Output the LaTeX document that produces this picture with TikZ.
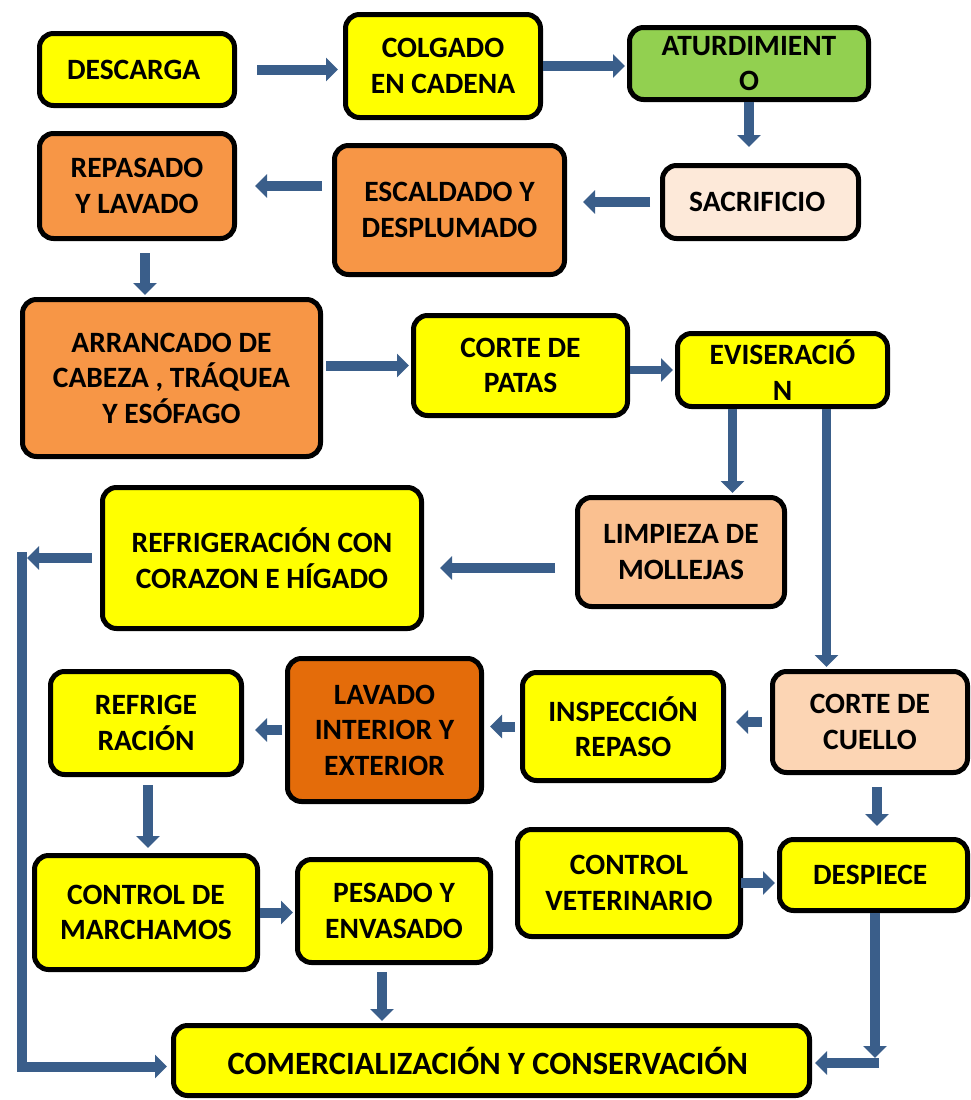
\documentclass[tikz,border=0pt]{standalone}
\usepackage{fontspec}
\setmainfont{Carlito}
\usetikzlibrary{arrows.meta}

\definecolor{amarillo}{HTML}{FFFF00}
\definecolor{verde}{HTML}{92D050}
\definecolor{rosado}{HTML}{FDE9D9}
\definecolor{naranja}{HTML}{F79646}
\definecolor{salmon}{HTML}{FAC090}
\definecolor{durazno}{HTML}{FCD5B4}
\definecolor{naranjaosc}{HTML}{E46C0A}
\definecolor{azul}{RGB}{58,94,138}

\begin{document}
\begin{tikzpicture}[x = 1pt, y = -1pt,
  paso/.style = {draw, line width = 5pt, rounded corners = 14pt, align = center, inner sep = 2pt, font = \bfseries\fontsize{29.5}{35.5}\selectfont},
  flecha/.style = {draw = azul, line width = 10pt, -{Triangle[width = 23pt, length = 12pt]}},
  delgada/.style = {flecha, line width = 9pt}]

  \useasboundingbox (0, 0) rectangle (970, 1100);

  \node[paso, fill = amarillo, minimum width = 195, minimum height = 72] (descarga) at (137, 69.5) { DESCARGA };
  \node[paso, fill = amarillo, minimum width = 195, minimum height = 103] (colgado) at (443, 66) { COLGADO\\EN CADENA };
  \node[paso, fill = verde, minimum width = 239, minimum height = 72] (aturdimiento) at (749, 63.5) { ATURDIMIENT\\O };

  \node[paso, fill = rosado, minimum width = 196, minimum height = 73] (sacrificio) at (760.5, 202) { SACRIFICIO };
  \node[paso, fill = naranja, minimum width = 230, minimum height = 129] (escaldado) at (449.5, 210) { ESCALDADO Y\\DESPLUMADO };
  \node[paso, fill = naranja, minimum width = 195, minimum height = 105] (repasado) at (137, 186) { REPASADO\\Y LAVADO };

  \node[paso, fill = naranja, minimum width = 298, minimum height = 157] (arrancado) at (171.5, 378) { ARRANCADO DE\\CABEZA , TRÁQUEA\\Y ESÓFAGO };
  \node[paso, fill = amarillo, minimum width = 214, minimum height = 100] (patas) at (520.5, 365.5) { CORTE DE\\PATAS };
  \node[paso, fill = amarillo, minimum width = 210, minimum height = 73] (evisceracion) at (782.5, 370) { EVISERACIÓ\\N };

  \node[paso, fill = salmon, minimum width = 207, minimum height = 109] (mollejas) at (681, 552) { LIMPIEZA DE\\MOLLEJAS };
  \node[paso, fill = amarillo, minimum width = 319, minimum height = 141] (refcorazon) at (262, 558) { REFRIGERACIÓN CON\\CORAZON E HÍGADO };

  \node[paso, fill = durazno, minimum width = 195, minimum height = 101] (cuello) at (870, 722) { CORTE DE\\CUELLO };
  \node[paso, fill = amarillo, minimum width = 201, minimum height = 108] (inspeccion) at (623, 726.5) { INSPECCIÓN\\REPASO };
  \node[paso, fill = naranjaosc, minimum width = 194, minimum height = 143] (lavado) at (384.5, 730) { LAVADO\\INTERIOR Y\\EXTERIOR };
  \node[paso, fill = amarillo, minimum width = 191, minimum height = 103] (refrigeracion) at (146, 723) { REFRIGE\\RACIÓN };

  \node[paso, fill = amarillo, minimum width = 223, minimum height = 114] (marchamos) at (146, 912.5) { CONTROL DE\\MARCHAMOS };
  \node[paso, fill = amarillo, minimum width = 193, minimum height = 103] (pesado) at (394, 911) { PESADO Y\\ENVASADO };
  \node[paso, fill = amarillo, minimum width = 223, minimum height = 107] (veterinario) at (629, 883) { CONTROL\\VETERINARIO };
  \node[paso, fill = amarillo, minimum width = 188, minimum height = 71] (despiece) at (873.5, 875) { DESPIECE };

  \node[paso, fill = amarillo, minimum width = 636, minimum height = 70, font = \bfseries\fontsize{32.5}{38}\selectfont] (comercio) at (491.5, 1060.5) { COMERCIALIZACIÓN Y CONSERVACIÓN };

  \coordinate (rielizq) at (22, 552);
  \coordinate (rielder) at (875, 1063);

  % linea principal
  \draw[flecha, shorten < = 20pt, shorten > = 5pt] (descarga.east) -- (descarga.east -| colgado.west);
  \draw[flecha, shorten > = 2pt] (colgado.east) -- (colgado.east -| aturdimiento.west);
  \draw[flecha, shorten > = 16pt] (aturdimiento.south) -- (aturdimiento.south |- sacrificio.north);
  \draw[flecha, shorten < = 10pt, shorten > = 16pt] (sacrificio.west) -- (sacrificio.west -| escaldado.east);
  \draw[flecha, shorten < = 10pt, shorten > = 18pt] (repasado.east -| escaldado.west) -- (repasado.east);
  \draw[flecha, shorten < = 12pt, shorten > = 2pt] ([xshift = 8pt]repasado.south) -- ([xshift = 8pt]repasado.south |- arrancado.north);
  \draw[flecha, shorten < = 3pt, shorten > = 2pt] (arrancado.east |- patas.west) -- (patas.west);
  \draw[flecha, line width = 8pt, shorten > = 2pt] (patas.east |- evisceracion.west) -- (evisceracion.west);

  \draw[delgada, shorten > = 2pt] ([xshift = -50pt]evisceracion.south) -- ([xshift = -50pt]evisceracion.south |- mollejas.north);
  \draw[delgada, shorten > = 2pt] ([xshift = 44pt]evisceracion.south) -- ([xshift = 44pt]evisceracion.south |- cuello.north);
  \draw[flecha, shorten < = 20pt, shorten > = 16pt] ([yshift = -16pt]mollejas.west) -- ([yshift = -16pt]mollejas.west -| refcorazon.east);

  % salida lateral
  \draw[flecha, shorten < = 8pt, shorten > = 5pt] (refcorazon.west) -- (refcorazon.west -| rielizq);
  \draw[flecha, shorten > = 4pt] (rielizq) |- ([yshift = -6pt]comercio.west);

  \draw[flecha, shorten < = 8pt, shorten > = 10pt] (cuello.west) -- (cuello.west -| inspeccion.east);
  \draw[flecha, shorten < = 5pt, shorten > = 6pt] (inspeccion.west) -- (inspeccion.west -| lavado.east);
  \draw[flecha, shorten < = 3pt, shorten > = 11pt] (lavado.west) -- (lavado.west -| refrigeracion.east);
  \draw[flecha, shorten < = 8pt, shorten > = 5pt] ([xshift = 2pt]refrigeracion.south) -- ([xshift = 2pt]refrigeracion.south |- marchamos.north);
  \draw[flecha, shorten > = 2pt] (marchamos.east) -- (marchamos.east -| pesado.west);
  \draw[flecha, shorten < = -2pt, shorten > = 2pt] (veterinario.east) -- (veterinario.east -| despiece.west);
  \draw[flecha, shorten < = 12pt, shorten > = 11pt] ([xshift = 7pt]cuello.south) -- ([xshift = 7pt]cuello.south |- despiece.north);
  \draw[flecha, shorten < = 7pt, shorten > = 2pt] ([xshift = -12pt]pesado.south) -- ([xshift = -12pt]pesado.south |- comercio.north);

  % salida derecha
  \draw[flecha, shorten > = 5pt] (rielder |- despiece.south) -- (rielder);
  \draw[flecha, shorten < = -4pt, shorten > = 3pt] (rielder) -- (rielder -| comercio.east);

\end{tikzpicture}
\end{document}
